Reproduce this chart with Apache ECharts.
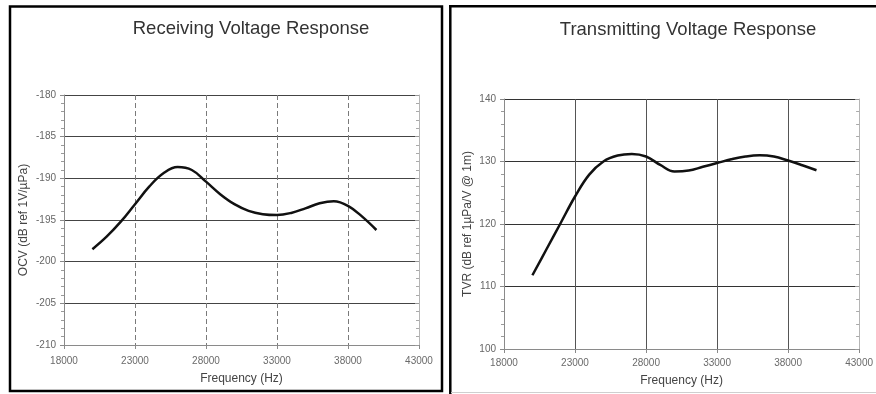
<!DOCTYPE html>
<html>
<head>
<meta charset="utf-8">
<script src="https://cdn.jsdelivr.net/npm/echarts@6/dist/echarts.min.js"></script>
<style>
  html, body { margin: 0; padding: 0; background: #fff; }
  #chart { width: 876px; height: 394px; }
</style>
</head>
<body>
<div id="chart"></div>
<script>
// Frequency sweep shared by both responses (Hz)
const frequency = [20000, 21000, 22000, 23000, 24000, 25000, 26000, 27000, 28000, 29000, 30000,
                   31000, 32000, 33000, 34000, 35000, 36000, 37000, 38000, 39000, 40000];

// Open-circuit receive voltage, dB ref 1V/µPa
const ocv = [-198.5, -197.0, -195.2, -193.1, -191.0, -189.4, -188.65, -189.0, -190.4, -191.9, -193.1,
             -193.9, -194.3, -194.4, -194.15, -193.6, -193.0, -192.75, -193.3, -194.6, -196.2];

// Transmit voltage response, dB ref 1µPa/V @ 1m
const tvr = [111.8, 116.0, 120.2, 124.4, 127.9, 130.0, 130.95, 131.2, 130.8, 129.45, 128.4,
             128.55, 129.15, 129.75, 130.35, 130.8, 131.0, 130.8, 130.15, 129.4, 128.6];

const titles = ['Receiving Voltage Response', 'Transmitting Voltage Response'];
const xName = 'Frequency (Hz)';
const yNames = ['OCV (dB ref 1V/\u00B5Pa)', 'TVR (dB ref 1\u00B5Pa/V @ 1m)'];

const FONT = 'Liberation Sans, Arial, sans-serif';
const pairs = (ys) => frequency.map((f, i) => [f, ys[i]]);
const plain = (v) => String(v);

function freqAxis(gridIndex, splitStyle, nameGap, labelMargin) {
  return {
    type: 'value', gridIndex, min: 18000, max: 43000, interval: 5000,
    name: xName, nameLocation: 'middle', nameGap,
    nameTextStyle: { fontFamily: FONT, fontSize: 12, color: '#444' },
    axisLine: { show: true, onZero: false, lineStyle: { color: '#8a8a8a', width: 1 } },
    axisTick: { show: true, length: 4, lineStyle: { color: '#8a8a8a' } },
    axisLabel: { fontFamily: FONT, fontSize: 10, color: '#6a6a6a', margin: labelMargin, formatter: plain },
    splitLine: { show: true, lineStyle: splitStyle }
  };
}

function levelAxis(gridIndex, min, max, interval, name, nameGap, splitColor) {
  return {
    type: 'value', gridIndex, position: 'left', min, max, interval,
    name, nameLocation: 'middle', nameGap,
    nameTextStyle: { fontFamily: FONT, fontSize: 12, color: '#444' },
    axisLine: { show: true, onZero: false, lineStyle: { color: '#8a8a8a', width: 1 } },
    axisTick: { show: true, length: 4, lineStyle: { color: '#8a8a8a' } },
    minorTick: { show: true, splitNumber: 5, length: 3, lineStyle: { color: '#9a9a9a' } },
    axisLabel: { fontFamily: FONT, fontSize: 10, color: '#666', margin: 8, formatter: plain },
    splitLine: { show: true, lineStyle: { color: splitColor, width: 1 } }
  };
}

function edgeAxis(gridIndex, min, max, interval) {
  return {
    type: 'value', gridIndex, position: 'right', min, max, interval,
    axisLine: { show: true, onZero: false, lineStyle: { color: '#b5b5b5', width: 1 } },
    axisTick: { show: true, inside: true, length: 4, lineStyle: { color: '#999' } },
    minorTick: { show: true, splitNumber: 5, length: 3, lineStyle: { color: '#aaa' } },
    axisLabel: { show: false },
    splitLine: { show: false }
  };
}

const curve = (xAxisIndex, yAxisIndex, ys) => ({
  type: 'line', xAxisIndex, yAxisIndex, data: pairs(ys),
  smooth: 0.4, showSymbol: false, silent: true,
  lineStyle: { color: '#111', width: 2.5 }
});

const chart = echarts.init(document.getElementById('chart'), null, { renderer: 'canvas' });
chart.setOption({
  backgroundColor: '#fff',
  animation: false,
  title: [
    { text: titles[0], left: 246, top: 14, textAlign: 'center',
      textStyle: { fontFamily: FONT, fontSize: 18.5, fontWeight: 'normal', color: '#333' } },
    { text: titles[1], left: 683, top: 15, textAlign: 'center',
      textStyle: { fontFamily: FONT, fontSize: 18.5, fontWeight: 'normal', color: '#333' } }
  ],
  grid: [
    { left: 64, top: 95, width: 355, height: 250 },
    { left: 504, top: 99, width: 357, height: 250 }
  ],
  xAxis: [
    freqAxis(0, { color: '#7a7a7a', type: [5, 3], width: 1 }, 28, 11),
    freqAxis(1, { color: '#555', width: 1 }, 26, 9)
  ],
  yAxis: [
    levelAxis(0, -210, -180, 5, yNames[0], 34, '#444'),
    edgeAxis(0, -210, -180, 5),
    levelAxis(1, 100, 140, 10, yNames[1], 30, '#333'),
    edgeAxis(1, 100, 140, 10)
  ],
  series: [
    curve(0, 0, ocv),
    curve(1, 2, tvr)
  ],
  graphic: [
    { type: 'rect', shape: { x: 10, y: 6.5, width: 432, height: 384.5 },
      style: { fill: null, stroke: '#000', lineWidth: 2.5 }, silent: true },
    { type: 'line', shape: { x1: 450.3, y1: 5, x2: 450.3, y2: 394 },
      style: { stroke: '#000', lineWidth: 2.5 }, silent: true },
    { type: 'line', shape: { x1: 449, y1: 6.2, x2: 876, y2: 6.2 },
      style: { stroke: '#000', lineWidth: 2.5 }, silent: true },
    { type: 'line', shape: { x1: 451, y1: 392.5, x2: 876, y2: 392.5 },
      style: { stroke: '#cfcfcf', lineWidth: 1 }, silent: true }
  ]
});
</script>
</body>
</html>
